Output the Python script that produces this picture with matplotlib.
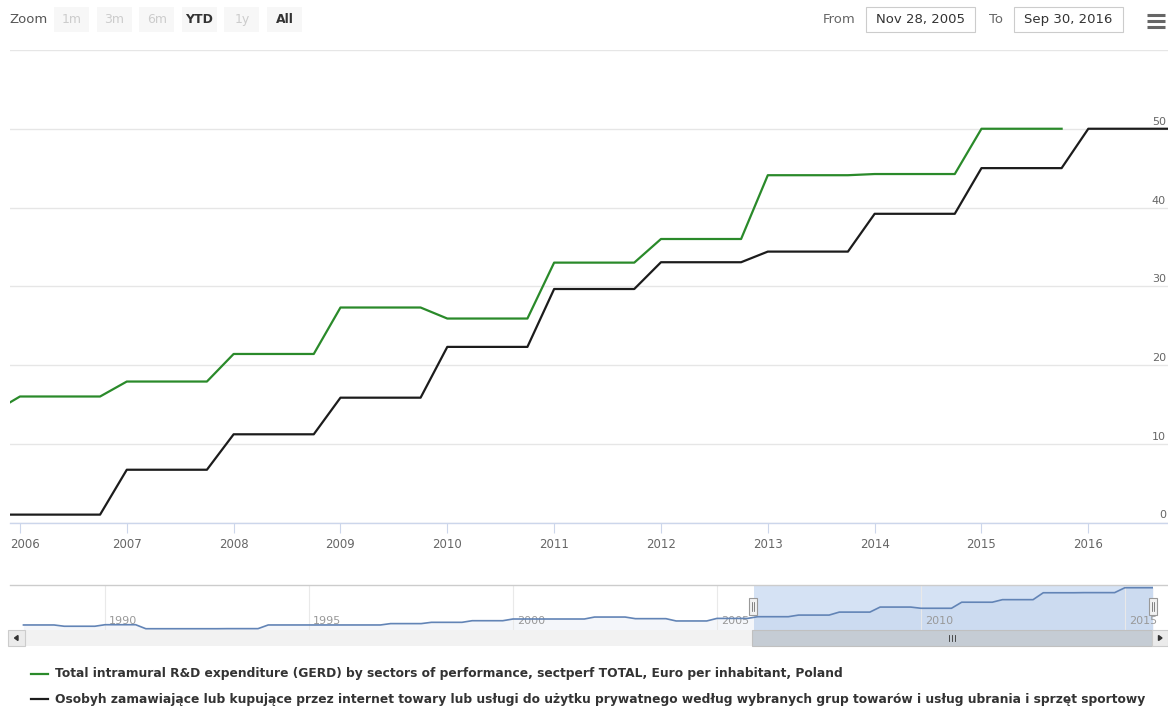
import matplotlib
matplotlib.use("Agg")
import matplotlib.pyplot as plt
from matplotlib.patches import Rectangle, Polygon
from matplotlib.transforms import ScaledTranslation, blended_transform_factory

# ---------------- data ----------------
green_years = list(range(1988, 2016))
green_values = [6.3, 4.8, 6.6, 1.9, 1.9, 2.0, 6.3, 6.3, 6.3, 7.9, 9.4, 11.3,
                13.3, 13.3, 15.6, 13.7, 11.0, 14.0, 16.0, 17.9, 21.4, 27.3,
                25.9, 33.0, 36.0, 44.1, 44.25, 50.0]
black_years = list(range(2005, 2017))
black_values = [1.0, 1.0, 6.7, 11.2, 15.85, 22.3, 29.65, 33.05, 34.4, 39.2,
                45.0, 50.0]
x_tick_years = list(range(2006, 2017))
y_ticks = [0, 10, 20, 30, 40, 50]
y_grid = [0, 10, 20, 30, 40, 50, 60]
nav_tick_years = [1990, 1995, 2000, 2005, 2010, 2015]
zoom_buttons = ["1m", "3m", "6m", "YTD", "1y", "All"]
zoom_enabled = [False, False, False, True, False, True]
range_from_label = "Nov 28, 2005"
range_to_label = "Sep 30, 2016"
range_start = 2005 + 331 / 365.0
range_end = 2016 + 273 / 366.0
legend_labels = [
    "Total intramural R&D expenditure (GERD) by sectors of performance, sectperf TOTAL, Euro per inhabitant, Poland",
    "Osobyh zamawiające lub kupujące przez internet towary lub usługi do użytku prywatnego według wybranych grup towarów i usług ubrania i sprzęt sportowy",
]
GREEN = "#2a8a2a"
BLACK = "#1c1c1c"


def annual_points(years, values):
    xs, ys = [], []
    for yr, v in zip(years, values):
        xs += [yr, yr + 0.75]
        ys += [v, v]
    return xs, ys


W, H = 1168, 706
fig = plt.figure(figsize=(W / 100, H / 100), dpi=100)
fig.patch.set_facecolor("white")

# ---------------- main plot ----------------
ax = fig.add_axes([10 / W, 1 - 522.5 / H, 1158 / W, 472.5 / H])
ax.set_facecolor("none")
ax.set_xlim(range_start, range_end)
ax.set_ylim(0, 60)
ax.set_yticks(y_grid)
ax.yaxis.grid(True, color="#e6e6e6", lw=1.0)
ax.tick_params(axis="y", length=0, labelleft=False)
for s in ["left", "right", "top"]:
    ax.spines[s].set_visible(False)
ax.spines["bottom"].set_color("#ccd6eb")
ax.spines["bottom"].set_linewidth(1.0)
ax.set_xticks(x_tick_years)
ax.set_xticklabels([str(y) for y in x_tick_years])
ax.tick_params(axis="x", direction="out", length=7.5, width=0.8, color="#ccd6eb",
               labelcolor="#666666", labelsize=8.5, pad=4)
lbl0 = ax.get_xticklabels()[0]
lbl0.set_transform(lbl0.get_transform() + ScaledTranslation(5 / 100, 0, fig.dpi_scale_trans))

ytr = blended_transform_factory(ax.transAxes, ax.transData) + ScaledTranslation(-2 / 100, 4 / 100, fig.dpi_scale_trans)
for v in y_ticks:
    ax.text(1, v, str(v), transform=ytr, ha="right", va="baseline",
            color="#666666", fontsize=8)

gx, gy = annual_points(green_years, green_values)
bx, by = annual_points(black_years, black_values)
ax.plot(gx, gy, color=GREEN, lw=1.6, solid_joinstyle="round", zorder=3)
ax.plot(bx, by, color=BLACK, lw=1.6, solid_joinstyle="round", zorder=3)

# ---------------- navigator ----------------
nav_xmin, nav_xmax = 1987.67, 2015.69
nav = fig.add_axes([10 / W, 1 - 630 / H, 1143 / W, 45 / H])
nav.set_facecolor("none")
nav.set_xlim(nav_xmin, nav_xmax)
nav.set_ylim(0.4, 53.2)
for s in nav.spines.values():
    s.set_visible(False)
nav.set_xticks(nav_tick_years)
nav.xaxis.grid(True, color="#e9e9e9", lw=0.8)
nav.tick_params(length=0, labelbottom=False, labelleft=False)
nav.set_yticks([])
nav.axvspan(range_start, nav_xmax, color="#d5e2f4", lw=0, zorder=1)
nav.fill_between(gx, gy, 0.4, color="#335cad", alpha=0.05, lw=0, zorder=1.5)
nav.plot(gx, gy, color="#6284b6", lw=1.2, zorder=2)
ntr = blended_transform_factory(nav.transData, nav.transAxes) + ScaledTranslation(4 / 100, 0, fig.dpi_scale_trans)
for yr in nav_tick_years:
    nav.text(yr, 0.21, str(yr), transform=ntr, ha="left", va="center",
             color="#999999", fontsize=8, zorder=1.8)

# ---------------- overlay (UI decorations, pixel coords) ----------------
ov = fig.add_axes([0, 0, 1, 1], zorder=5)
ov.set_xlim(0, W)
ov.set_ylim(H, 0)
ov.axis("off")
ov.patch.set_alpha(0)

# range selector buttons
ov.text(9, 19.5, "Zoom", ha="left", va="center", color="#555555", fontsize=9.5)
for i, (lab, en) in enumerate(zip(zoom_buttons, zoom_enabled)):
    x0 = 54 + i * 42.6
    ov.add_patch(Rectangle((x0, 7), 35, 25, facecolor="#f7f7f7", edgecolor="none"))
    ov.text(x0 + 17.5, 19.5, lab, ha="center", va="center",
            color="#333333" if en else "#cccccc", fontsize=9,
            fontweight="bold" if en else "normal")

ov.text(823, 19.5, "From", ha="left", va="center", color="#666666", fontsize=9.5)
ov.add_patch(Rectangle((866, 7), 109, 25, facecolor="white", edgecolor="#cccccc", lw=0.8))
ov.text(920.5, 19.5, range_from_label, ha="center", va="center", color="#333333", fontsize=9.5)
ov.text(989, 19.5, "To", ha="left", va="center", color="#666666", fontsize=9.5)
ov.add_patch(Rectangle((1014, 7), 109, 25, facecolor="white", edgecolor="#cccccc", lw=0.8))
ov.text(1068.5, 19.5, range_to_label, ha="center", va="center", color="#333333", fontsize=9.5)
for yy in (15, 21, 27):
    ov.plot([1147, 1165], [yy, yy], color="#666666", lw=2.2, solid_capstyle="butt")

# navigator outline
ov.plot([10, 1168], [585, 585], color="#cccccc", lw=1.0)

# handles
for hx in (752.5, 1152.5):
    ov.add_patch(Rectangle((hx - 4, 598), 8, 17, facecolor="#f2f2f2", edgecolor="#999999", lw=0.8))
    for dx in (-1, 1):
        ov.plot([hx + dx, hx + dx], [602, 611], color="#555555", lw=0.5)

# scrollbar
ov.add_patch(Rectangle((8, 630), 1160, 16, facecolor="#f2f2f2", edgecolor="none"))
ov.add_patch(Rectangle((8, 630), 17, 16, facecolor="#ebebeb", edgecolor="#cccccc", lw=0.8))
ov.add_patch(Polygon([[14.5, 638], [18, 635.5], [18, 640.5]], closed=True, color="#333333"))
ov.add_patch(Rectangle((752, 630), 400, 16, facecolor="#c5ccd4", edgecolor="#c0c0c0", lw=0.8))
for gxp in (949, 952, 955):
    ov.plot([gxp, gxp], [635, 641], color="#333333", lw=0.6)
ov.add_patch(Rectangle((1152, 630), 16, 16, facecolor="#ebebeb", edgecolor="#cccccc", lw=0.8))
ov.add_patch(Polygon([[1162, 638], [1158.5, 635.5], [1158.5, 640.5]], closed=True, color="#333333"))

# legend
legend_colors = [GREEN, BLACK]
legend_y = [674, 699]
texts = []
for lab, col, yy in zip(legend_labels, legend_colors, legend_y):
    ov.plot([31, 48], [yy, yy], color=col, lw=1.6)
    t = ov.text(55, yy, lab, ha="left", va="center", color="#333333",
                fontsize=9, fontweight="bold")
    texts.append(t)
fig.canvas.draw()
r = fig.canvas.get_renderer()
w0 = texts[0].get_window_extent(r).width
fs = 9 * 788.0 / w0
for t in texts:
    t.set_fontsize(fs)

fig.savefig("out.png", dpi=100, facecolor="white")
